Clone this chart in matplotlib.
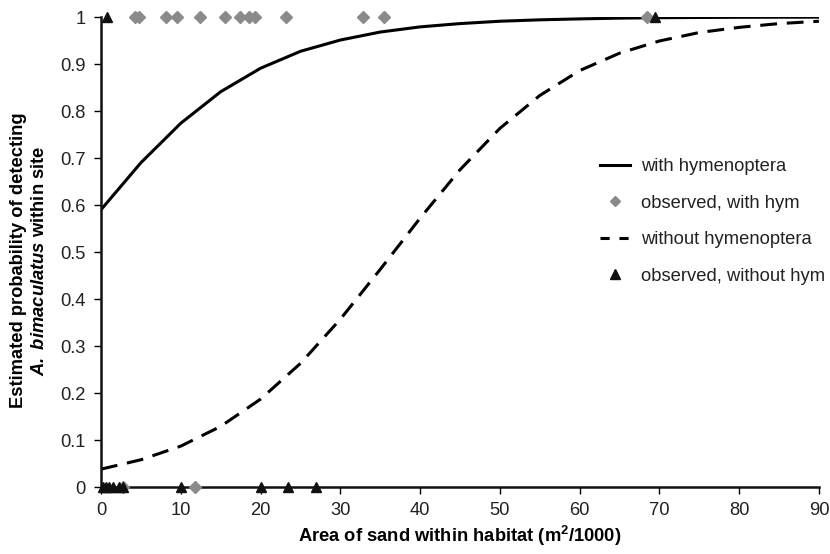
import matplotlib
matplotlib.use("Agg")
import matplotlib.pyplot as plt
from matplotlib.lines import Line2D

plt.rcParams['font.family'] = ['Liberation Sans', 'DejaVu Sans']
plt.rcParams['mathtext.fontset'] = 'custom'
plt.rcParams['mathtext.rm'] = 'Liberation Sans:bold'
plt.rcParams['mathtext.bf'] = 'Liberation Sans:bold'
plt.rcParams['mathtext.it'] = 'Liberation Sans:italic'
plt.rcParams['mathtext.bfit'] = 'Liberation Sans:bold:italic'

# Curve values read at 5-unit steps
curve_x = [0, 5, 10, 15, 20, 25, 30, 35, 40, 45, 50, 55, 60, 65, 70, 75, 80, 85, 90]
with_hym = [0.59, 0.69, 0.774, 0.841, 0.891, 0.927, 0.951, 0.968, 0.979, 0.986,
            0.991, 0.994, 0.996, 0.9976, 0.9985, 0.999, 0.9994, 0.9996, 0.9997]
without_hym = [0.038, 0.058, 0.087, 0.129, 0.187, 0.263, 0.357, 0.463, 0.572, 0.675,
               0.763, 0.833, 0.886, 0.923, 0.949, 0.967, 0.978, 0.986, 0.991]

# Observed points, with hymenoptera (diamonds)
obs_with_x = [4.3, 4.8, 8.2, 9.5, 12.4, 15.5, 17.4, 18.5, 19.3, 23.2, 32.9, 35.5, 68.5, 11.8, 2.8]
obs_with_y = [1, 1, 1, 1, 1, 1, 1, 1, 1, 1, 1, 1, 1, 0, 0]
# Observed points, without hymenoptera (triangles)
obs_without_x = [0.8, 69.5, 0.2, 0.6, 1.0, 1.5, 2.3, 2.7, 10.0, 20.1, 23.4, 27.0]
obs_without_y = [1, 1, 0, 0, 0, 0, 0, 0, 0, 0, 0, 0]

xticks = [0, 10, 20, 30, 40, 50, 60, 70, 80, 90]
yticks = [0, 0.1, 0.2, 0.3, 0.4, 0.5, 0.6, 0.7, 0.8, 0.9, 1]
ytick_labels = ['0', '0.1', '0.2', '0.3', '0.4', '0.5', '0.6', '0.7', '0.8', '0.9', '1']

FS = 13.2

fig = plt.figure(figsize=(8.3, 5.54), dpi=100)
ax = fig.add_axes([0.1217, 0.1209, 0.865, 0.8484])

ax.plot(curve_x, with_hym, color='black', lw=2.2, zorder=2)
ax.plot(curve_x, without_hym, color='black', lw=2.2, dashes=(5.5, 3.2), zorder=2)
ax.plot(obs_with_x, obs_with_y, linestyle='none',
        marker='D', markersize=5.8, color='#8a8a8a', clip_on=False, zorder=3)
ax.plot(obs_without_x, obs_without_y, linestyle='none', marker='^', markersize=7.5,
        color='#111111', clip_on=False, zorder=4)

ax.set_xlim(0, 90)
ax.set_ylim(0, 1)
ax.set_xticks(xticks)
ax.set_xticklabels([str(t) for t in xticks])
ax.set_yticks(yticks)
ax.set_yticklabels(ytick_labels)
ax.tick_params(axis='both', direction='out', length=5, width=1, labelsize=FS,
               colors='black', labelcolor='#222222', pad=6)
for s in ['top', 'right']:
    ax.spines[s].set_visible(False)
for s in ['left', 'bottom']:
    ax.spines[s].set_linewidth(1.8)
    ax.spines[s].set_color('#111111')

ax.set_xlabel('Area of sand within habitat (m$^{2}$/1000)', fontsize=FS,
              fontweight='bold', labelpad=3)

fig.text(0.022, 0.530, 'Estimated probability of detecting', rotation=90,
         fontsize=FS, fontweight='bold', ha='center', va='center')
fig.text(0.048, 0.530, r'$\mathbfit{A.\ bimaculatus}$ within site', rotation=90,
         fontsize=FS, fontweight='bold', ha='center', va='center')

handles = [
    Line2D([], [], color='black', lw=2.2),
    Line2D([], [], linestyle='none', marker='D', markersize=5, color='#8a8a8a'),
    Line2D([], [], color='black', lw=2.2, dashes=(3.0, 3.2)),
    Line2D([], [], linestyle='none', marker='^', markersize=7, color='#111111'),
]
labels = ['with hymenoptera', 'observed, with hym', 'without hymenoptera',
          'observed, without hym']
leg = ax.legend(handles, labels, loc='upper left', bbox_to_anchor=(0.695, 0.70),
                frameon=False, fontsize=FS, handlelength=1.62, handletextpad=0.6,
                labelspacing=1.07, borderaxespad=0, borderpad=0)
for t in leg.get_texts():
    t.set_color('#222222')

fig.savefig('out.png', dpi=100)
